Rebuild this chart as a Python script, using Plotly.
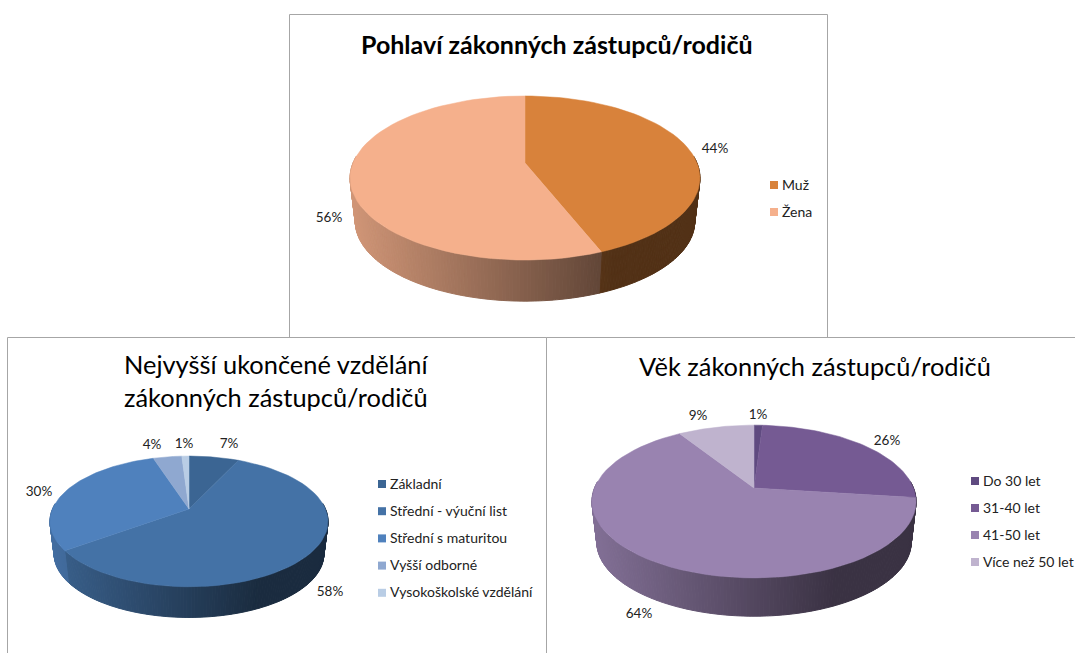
import numpy as np
import plotly.graph_objects as go

# values (percent)
pohlavi_labels = ["Muž", "Žena"]
pohlavi_values = [44, 56]

vzdelani_labels = ["Základní", "Střední - výuční list", "Střední s maturitou", "Vyšší odborné", "Vysokoškolské vzdělání"]
vzdelani_values = [7, 58, 30, 4, 1]

vek_labels = ["Do 30 let", "31-40 let", "41-50 let", "Více než 50 let"]
vek_values = [1, 26, 64, 9]

FONT = "Lato"
GREY = "#a6a6a6"

pies = [
    dict(labels=pohlavi_labels, values=pohlavi_values,
         colors=["#d8823b", "#f5b08c"],
         cx=525, cy=163, rx=172, ry=79.3, p=0.183, depth=44,
         text_pos=[(715, 150), (329, 219)],
         legend=(774, 186, 27)),
    dict(labels=vzdelani_labels, values=vzdelani_values,
         colors=["#3b6593", "#4472a6", "#4f81bd", "#8fa8d0", "#b9cde5"],
         cx=189, cy=509, rx=136.5, ry=63, p=0.19, depth=33,
         text_pos=[(229, 445), (330, 593), (39, 493), (152, 446), (184, 445)],
         legend=(382, 485, 27.2)),
    dict(labels=vek_labels, values=vek_values,
         colors=["#5f4a80", "#755a93", "#9983b0", "#bfb3ce"],
         cx=754, cy=488, rx=159.5, ry=74, p=0.177, depth=41,
         text_pos=[(758, 416), (887, 442), (639, 615), (698, 417)],
         legend=(975, 482, 27)),
]

titles = [
    ("Pohlaví zákonných zástupců/rodičů", 557, 44, 25, True),
    ("Nejvyšší ukončené vzdělání<br>zákonných zástupců/rodičů", 276, 380, 25.4, False),
    ("Věk zákonných zástupců/rodičů", 815, 366, 25.4, False),
]


def project(pie, angle, scale=1.0, drop=0.0):
    # angle in degrees, clockwise from the top, with a little perspective
    a = np.radians(angle)
    u, v = np.sin(a), np.cos(a)
    w = 1 + pie["p"] * v
    return (pie["cx"] + scale * pie["rx"] * u / w,
            pie["cy"] + drop - scale * pie["ry"] * v / w)


def shade(color, x, pie):
    # side of the pie gets darker to the right, flat at the end
    half = pie["rx"] / np.sqrt(1 - pie["p"] ** 2)
    t = (x - pie["cx"] + half) / (2 * half)
    f = max(0.85 - t / 0.75 * 0.47, 0.38)
    r, g, b = int(color[1:3], 16), int(color[3:5], 16), int(color[5:7], 16)
    return f"rgb({r * f:.0f},{g * f:.0f},{b * f:.0f})"


fig = go.Figure()

for pie in pies:
    edges = np.cumsum([0] + pie["values"]) / sum(pie["values"]) * 360

    # side first, thin strips for the gradient
    for i, color in enumerate(pie["colors"]):
        start, end = max(edges[i], 85), min(edges[i + 1], 275)
        if start >= end:
            continue
        steps = np.arange(start, end, 1.0).tolist() + [end]
        for a0, a1 in zip(steps[:-1], steps[1:]):
            top = [project(pie, a) for a in (a0, a1)]
            bottom = [project(pie, a, 0.97, pie["depth"]) for a in (a1, a0)]
            pts = top + bottom + top[:1]
            c = shade(color, (top[0][0] + top[1][0]) / 2, pie)
            fig.add_trace(go.Scatter(x=[q[0] for q in pts], y=[q[1] for q in pts],
                                     mode="lines", fill="toself", fillcolor=c,
                                     line=dict(color=c, width=1),
                                     hoverinfo="skip", showlegend=False))

    # top face
    for i, color in enumerate(pie["colors"]):
        angles = np.linspace(edges[i], edges[i + 1], 60)
        rim = [project(pie, a) for a in angles]
        xs = [pie["cx"]] + [q[0] for q in rim] + [pie["cx"]]
        ys = [pie["cy"]] + [q[1] for q in rim] + [pie["cy"]]
        fig.add_trace(go.Scatter(x=xs, y=ys, mode="lines", fill="toself", fillcolor=color,
                                 line=dict(color=color, width=0.5),
                                 name=pie["labels"][i], hoverinfo="skip", showlegend=False))

    # percent labels
    fig.add_trace(go.Scatter(x=[q[0] for q in pie["text_pos"]], y=[q[1] for q in pie["text_pos"]],
                             mode="text", text=[f"{v}%" for v in pie["values"]],
                             textfont=dict(family=FONT, size=13.5, color="#222222"),
                             hoverinfo="skip", showlegend=False))

    # legend, squares and names
    lx, ly, gap = pie["legend"]
    ys = [ly + i * gap for i in range(len(pie["labels"]))]
    fig.add_trace(go.Scatter(x=[lx] * len(ys), y=[y - 1 for y in ys], mode="markers",
                             marker=dict(symbol="square", size=8, color=pie["colors"]),
                             hoverinfo="skip", showlegend=False))
    fig.add_trace(go.Scatter(x=[lx + 8] * len(ys), y=ys, mode="text",
                             text=pie["labels"], textposition="middle right",
                             textfont=dict(family=FONT, size=14, color="#222222"),
                             hoverinfo="skip", showlegend=False))

for text, x, y, size, bold in titles:
    fig.add_annotation(x=x, y=y, text=f"<b>{text}</b>" if bold else text, showarrow=False,
                       xanchor="center", yanchor="middle", align="center",
                       font=dict(family=FONT, size=size, color="#000000"))

# frames of the three charts
frames = [(289.5, 14.5, 827.5, 337.5), (7.5, 337.5, 546.5, 660), (546.5, 337.5, 1080, 660)]
for x0, y0, x1, y1 in frames:
    fig.add_shape(type="rect", x0=x0, y0=y0, x1=x1, y1=y1, layer="below",
                  line=dict(color=GREY, width=1), fillcolor="white")

fig.update_layout(
    width=1075, height=653, margin=dict(l=0, r=0, t=0, b=0),
    paper_bgcolor="white", plot_bgcolor="white", showlegend=False,
    xaxis=dict(range=[0, 1075], visible=False, fixedrange=True),
    yaxis=dict(range=[653, 0], visible=False, fixedrange=True),
)

fig.write_html("out.html", config=dict(displayModeBar=False),
               post_script="document.body.style.margin='0';")
